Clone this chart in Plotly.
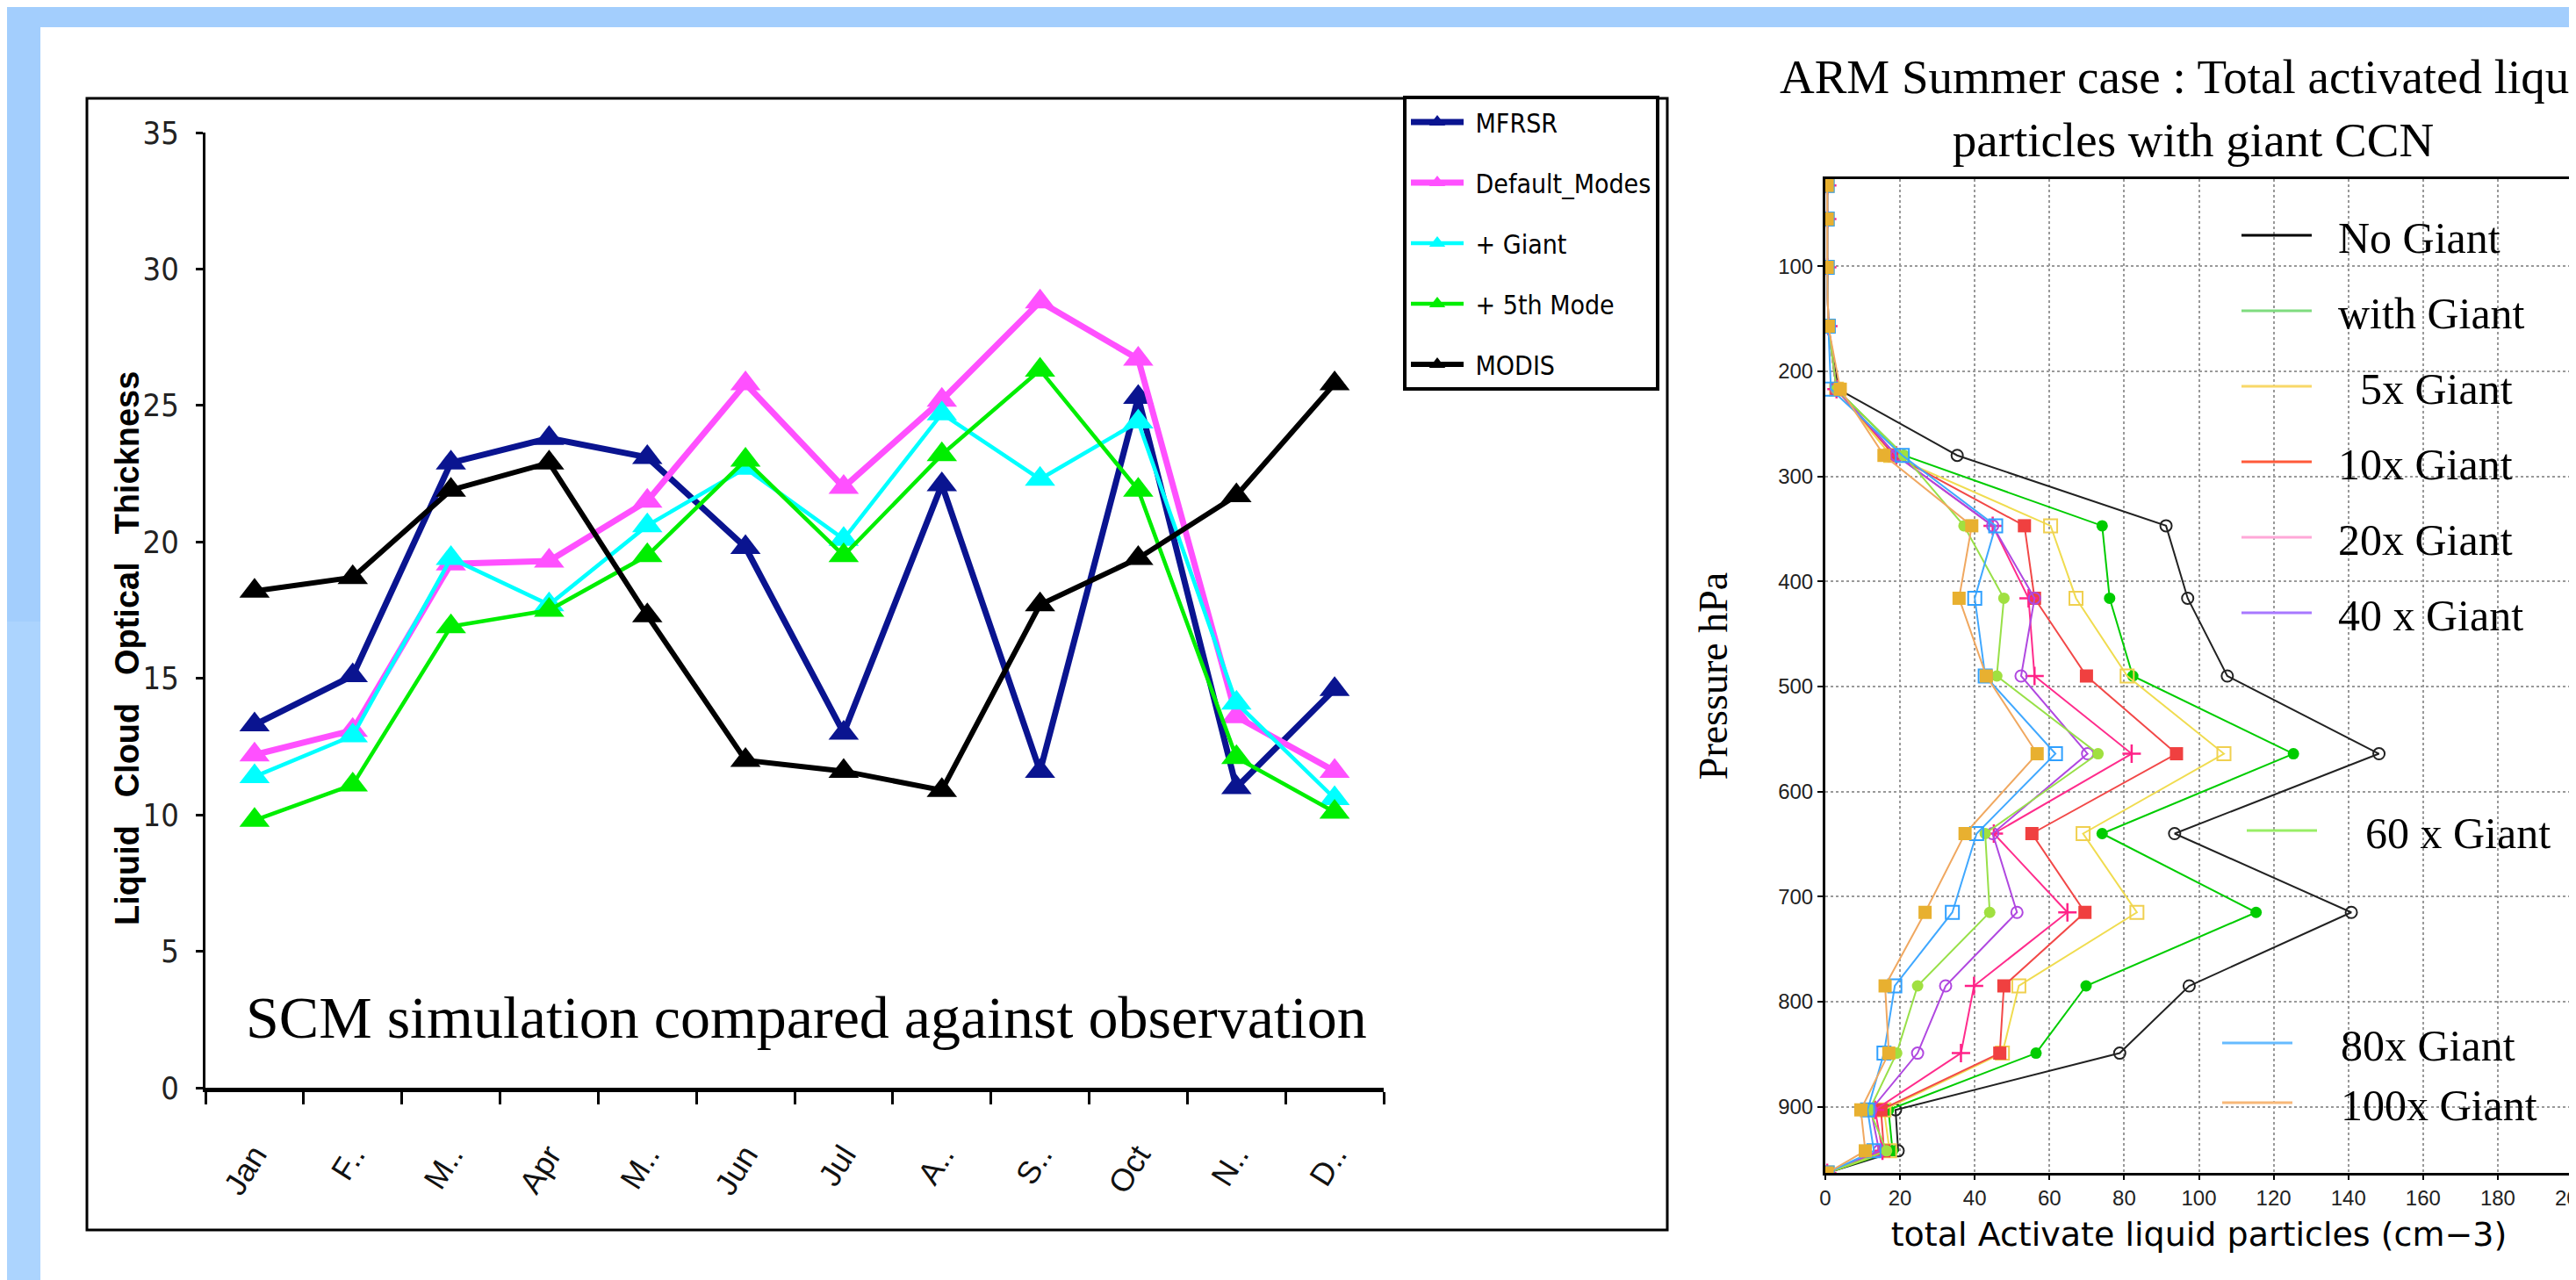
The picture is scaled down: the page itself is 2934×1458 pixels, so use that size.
import plotly.graph_objects as go

W, H = 2934, 1458


def px(v):
    return v / W


def py(v):
    return 1 - v / H


# ---------------- left chart data ----------------
months = ["Jan", "F..", "M..", "Apr", "M..", "Jun", "Jul", "A..", "S..", "Oct", "N..", "D.."]
mfrsr = [13.3, 15.1, 22.9, 23.8, 23.1, 19.8, 13.0, 22.1, 11.6, 25.3, 11.0, 14.6]
default_modes = [12.2, 13.1, 19.2, 19.3, 21.5, 25.8, 22.0, 25.2, 28.8, 26.7, 13.6, 11.6]
plus_giant = [11.4, 12.9, 19.4, 17.7, 20.6, 22.7, 20.1, 24.7, 22.3, 24.4, 14.1, 10.6]
fifth_mode = [9.8, 11.1, 16.9, 17.5, 19.5, 23.0, 19.5, 23.2, 26.3, 21.9, 12.1, 10.1]
modis = [18.2, 18.7, 21.9, 22.9, 17.3, 12.0, 11.6, 10.9, 17.7, 19.4, 21.7, 25.8]
left_yticks = [0, 5, 10, 15, 20, 25, 30, 35]

# ---------------- right chart data ----------------
pressure_levels = [23, 55, 101, 157, 217, 280, 347, 416, 490, 564, 640, 715, 785, 849, 903, 942, 963]
no_giant = [0.5, 0.5, 0.5, 0.8, 3.5, 35.3, 91.2, 97.0, 107.6, 148.2, 93.5, 140.8, 97.4, 78.8, 18.8, 19.5, 0.5]
with_giant = [0.5, 0.5, 0.5, 0.8, 3.0, 21.0, 74.1, 76.1, 82.3, 125.3, 74.1, 115.3, 69.8, 56.4, 16.9, 18.0, 0.5]
giant_5x = [0.5, 0.5, 0.5, 0.8, 3.0, 17.5, 60.3, 67.1, 80.8, 106.7, 69.0, 83.4, 51.8, 47.4, 15.7, 17.2, 0.5]
giant_10x = [0.5, 0.5, 0.5, 0.8, 3.0, 18.4, 53.3, 56.0, 69.9, 94.0, 55.3, 69.5, 47.8, 46.7, 14.9, 15.7, 0.5]
giant_20x = [0.5, 0.5, 0.5, 0.8, 3.0, 19.0, 44.8, 54.4, 56.0, 82.0, 45.1, 64.8, 39.8, 36.3, 13.3, 15.3, 0.5]
giant_40x = [0.5, 0.5, 0.5, 0.8, 3.0, 19.0, 44.8, 56.0, 52.4, 70.2, 44.8, 51.3, 32.2, 24.7, 12.2, 14.4, 0.5]
giant_60x = [0.5, 0.5, 0.5, 0.8, 3.0, 21.0, 37.1, 47.8, 45.9, 73.0, 42.8, 44.0, 24.7, 19.1, 11.8, 16.4, 0.5]
giant_80x = [0.5, 0.5, 0.5, 0.8, 1.5, 20.6, 45.6, 40.0, 42.8, 61.6, 40.5, 34.0, 18.6, 15.7, 11.3, 13.0, 0.5]
giant_100x = [0.5, 0.5, 0.5, 0.8, 4.0, 15.7, 39.2, 35.8, 43.1, 56.7, 37.4, 26.7, 16.0, 17.0, 9.5, 10.7, 0.5]
right_xticks = [0, 20, 40, 60, 80, 100, 120, 140, 160, 180, 200]
right_yticks = [100, 200, 300, 400, 500, 600, 700, 800, 900]

COND = "DejaVu Sans Condensed, Liberation Sans, sans-serif"
SANS = "Liberation Sans, Arial, sans-serif"
SERIF = "Liberation Serif, Times New Roman, serif"
NB = "\u00a0"

fig = go.Figure()

# ---------- left chart traces ----------
left_series = [
    ("MFRSR", mfrsr, "#0a1490", 7),
    ("Default_Modes", default_modes, "#ff50ff", 7),
    ("+ Giant", plus_giant, "#00ffff", 4.5),
    ("+ 5th Mode", fifth_mode, "#00ee00", 4.5),
    ("MODIS", modis, "#000000", 6),
]
xidx = list(range(len(months)))
for name, vals, col, lw in left_series:
    fig.add_trace(go.Scatter(
        x=xidx, y=vals, name=NB + name, mode="lines+markers",
        line=dict(color=col, width=lw),
        marker=dict(symbol="triangle-up", size=30, color=col),
        xaxis="x", yaxis="y", legend="legend", legendgroup=name,
    ))

# ---------- right chart traces ----------
# (name, values, line colour, marker, legend colour, legend id, legend label padding)
right_series = [
    ("No Giant", no_giant, "#222222", dict(symbol="circle-open", size=13, color="#222222", line=dict(width=2)), "#000000", "legend2", 2),
    ("with Giant", with_giant, "#00cc00", dict(symbol="circle", size=13, color="#00cc00"), "#7fdc7f", "legend2", 2),
    ("5x Giant", giant_5x, "#f0dc50", dict(symbol="square-open", size=15, color="#f0d050", line=dict(width=2)), "#f8d868", "legend2", 4),
    ("10x Giant", giant_10x, "#f24848", dict(symbol="square", size=15, color="#f04040"), "#ff5a3a", "legend2", 2),
    ("20x Giant", giant_20x, "#ff2c8c", dict(symbol="cross-thin-open", size=15, color="#ff2288", line=dict(width=2.5)), "#ffa8d8", "legend2", 2),
    ("40 x Giant", giant_40x, "#b048e0", dict(symbol="circle-open", size=13, color="#b048e0", line=dict(width=2)), "#a878ff", "legend2", 2),
    ("60 x Giant", giant_60x, "#98e048", dict(symbol="circle", size=13, color="#a0e040"), "#99ee66", "legend3", 4),
    ("80x Giant", giant_80x, "#40a8ff", dict(symbol="square-open", size=15, color="#30a0ff", line=dict(width=2)), "#66bbff", "legend4", 4),
    ("100x Giant", giant_100x, "#f0a860", dict(symbol="square", size=15, color="#e8b030"), "#f8b878", "legend4", 4),
]
for name, vals, col, mk, legcol, leg, pad in right_series:
    fig.add_trace(go.Scatter(
        x=vals, y=pressure_levels, name=name, mode="lines+markers",
        line=dict(color=col, width=2), marker=mk,
        xaxis="x2", yaxis="y2", showlegend=False,
    ))
for name, vals, col, mk, legcol, leg, pad in right_series:
    fig.add_trace(go.Scatter(
        x=[None], y=[None], name=NB * pad + name, mode="lines",
        line=dict(color=legcol, width=3),
        xaxis="x2", yaxis="y2", legend=leg, legendgroup=name,
    ))

fig.update_layout(
    template="none",
    width=W, height=H,
    margin=dict(l=0, r=0, t=0, b=0),
    paper_bgcolor="#a3cefd",
    plot_bgcolor="white",
    showlegend=True,
    title=dict(
        text="ARM Summer case : Total activated liquid<br>particles with giant CCN",
        x=px(2490), xanchor="center", y=py(98), yanchor="middle",
        font=dict(family=SERIF, size=55, color="black"),
    ),
    xaxis=dict(
        domain=[px(226), px(1568)], range=[-0.5, 11.5], anchor="y",
        tickmode="array", tickvals=xidx, ticktext=months,
        ticks="outside", ticklen=14, tickcolor="rgba(0,0,0,0)",
        minor=dict(tickmode="linear", tick0=-0.5, dtick=1, ticks="outside", ticklen=14, tickwidth=3,
                   tickcolor="black", showgrid=False),
        tickangle=-58, tickfont=dict(family=SANS, size=36, color="#111"),
        ticklabelstandoff=22,
        showline=True, linewidth=5, linecolor="black",
        showgrid=False, zeroline=False, automargin=False,
    ),
    yaxis=dict(
        domain=[py(1231), py(143)], range=[0, 35], anchor="x",
        tickmode="array", tickvals=left_yticks,
        ticks="outside", ticklen=8, tickwidth=3, tickcolor="black",
        tickfont=dict(family=COND, size=36, color="#222"),
        ticklabelstandoff=12,
        showline=True, linewidth=3, linecolor="black",
        showgrid=False, zeroline=False, automargin=False,
    ),
    xaxis2=dict(
        domain=[px(2071), px(2922)], range=[0, 200], anchor="y2",
        tickmode="array", tickvals=right_xticks,
        ticks="outside", ticklen=5, tickwidth=2, tickcolor="black",
        tickfont=dict(family=SANS, size=24, color="#222"),
        ticklabeloverflow="allow",
        showline=True, mirror=True, linewidth=3, linecolor="black",
        showgrid=True, gridcolor="#999999", gridwidth=1.5, griddash="dot",
        zeroline=False, automargin=False,
        title=dict(text="total Activate liquid particles (cm\u22123)", standoff=16,
                   font=dict(family="DejaVu Sans, sans-serif", size=38, color="black")),
    ),
    yaxis2=dict(
        domain=[py(1328), py(196)], range=[963, 17], anchor="x2",
        tickmode="array", tickvals=right_yticks,
        ticks="outside", ticklen=6, tickwidth=2, tickcolor="black",
        tickfont=dict(family=SANS, size=24, color="#222"),
        showline=True, mirror=True, linewidth=3, linecolor="black",
        showgrid=True, gridcolor="#999999", gridwidth=1.5, griddash="dot",
        zeroline=False, automargin=False,
        title=dict(text="Pressure hPa", standoff=44,
                   font=dict(family=SERIF, size=46, color="black")),
    ),
    legend=dict(
        x=px(1590), xanchor="left", y=py(101), yanchor="top",
        bgcolor="white", bordercolor="black", borderwidth=4,
        font=dict(family=COND, size=30, color="black"),
        tracegroupgap=27, itemwidth=60,
    ),
    legend2=dict(
        x=px(2540), xanchor="left", y=py(221), yanchor="top",
        bgcolor="rgba(0,0,0,0)", borderwidth=0,
        font=dict(family=SERIF, size=50, color="black"),
        tracegroupgap=18, itemwidth=80,
    ),
    legend3=dict(
        x=px(2546), xanchor="left", y=py(899), yanchor="top",
        bgcolor="rgba(0,0,0,0)", borderwidth=0,
        font=dict(family=SERIF, size=50, color="black"),
        itemwidth=80,
    ),
    legend4=dict(
        x=px(2518), xanchor="left", y=py(1141), yanchor="top",
        bgcolor="rgba(0,0,0,0)", borderwidth=0,
        font=dict(family=SERIF, size=50, color="black"),
        tracegroupgap=0, itemwidth=80,
    ),
    shapes=[
        dict(type="rect", xref="paper", yref="paper", x0=0, x1=px(38), y0=0, y1=py(700),
             fillcolor="#acd4fe", line=dict(width=0), layer="below"),
        dict(type="rect", xref="paper", yref="paper", x0=px(38), x1=1, y0=0, y1=py(23),
             fillcolor="white", line=dict(width=0), layer="below"),
        dict(type="rect", xref="paper", yref="paper", x0=px(91), x1=px(1891), y0=py(1393), y1=py(104),
             fillcolor="white", line=dict(color="black", width=3), layer="below"),
    ],
    annotations=[
        dict(text=("Liquid" + NB * 3 + "Cloud" + NB * 3 + "Optical" + NB * 3 + "Thickness"),
             xref="paper", yref="paper", x=px(137), y=py(731), xanchor="center", yanchor="middle",
             textangle=-90, showarrow=False,
             font=dict(family=SANS, size=38, weight="bold", color="black")),
        dict(text="SCM simulation compared against observation", xref="paper", yref="paper",
             x=px(910), y=py(1151), xanchor="center", yanchor="middle", showarrow=False,
             font=dict(family=SERIF, size=68, color="black")),
    ],
)

fig.write_html("out.html")
